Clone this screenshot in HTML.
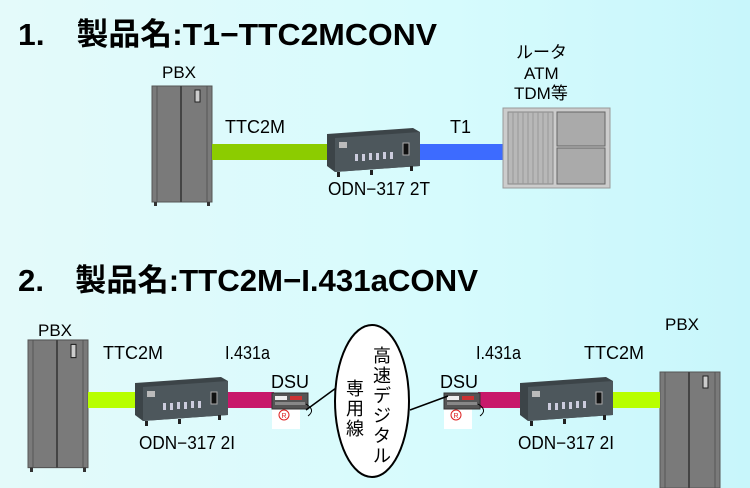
<!DOCTYPE html>
<html><head><meta charset="utf-8"><style>
html,body{margin:0;padding:0;width:750px;height:488px;overflow:hidden}
body{background:linear-gradient(90deg,#e4fafa 0%,#d6fbfd 60%,#c8f6fb 100%)}
svg text{font-family:"Liberation Sans","Noto Sans CJK JP",sans-serif;fill:#000}
</style></head><body>
<svg width="750" height="488" viewBox="0 0 750 488" xmlns="http://www.w3.org/2000/svg">
<defs>
<g id="pbx">
  <rect x="0" y="0" width="60" height="116" fill="#7a7a7a" stroke="#555"/>
  <line x1="5" y1="0" x2="5" y2="116" stroke="#555"/>
  <line x1="29" y1="0" x2="29" y2="116" stroke="#444" stroke-width="2"/>
  <line x1="55" y1="0" x2="55" y2="116" stroke="#555"/>
  <rect x="43" y="4" width="5" height="12" fill="#ccc" stroke="#222"/>
  <rect x="2" y="116" width="3" height="4" fill="#333"/><rect x="55" y="116" width="3" height="4" fill="#333"/>
</g>
<g id="odn">
  <path d="M2 6 L88 0 L95 4 L95 38 L10 44 L2 38 Z" fill="#3c4448"/>
  <path d="M10 10 L95 4 L95 38 L10 44 Z" fill="#4d575c"/>
  <rect x="14" y="14" width="8" height="6" fill="#bbb"/>
  <g fill="#ccd">
   <rect x="30" y="26" width="3" height="7"/><rect x="37" y="26" width="3" height="7"/><rect x="44" y="25" width="3" height="7"/><rect x="51" y="25" width="3" height="7"/><rect x="58" y="24" width="3" height="7"/><rect x="65" y="24" width="3" height="7"/>
  </g>
  <rect x="78" y="15" width="6" height="12" fill="#111" stroke="#aaa"/>
  <rect x="12" y="44" width="3" height="5" fill="#222"/><rect x="45" y="42" width="3" height="5" fill="#222"/><rect x="85" y="38" width="3" height="5" fill="#222"/>
</g>
<g id="dsu">
  <rect x="0" y="16" width="28" height="20" fill="#fff"/>
  <rect x="0" y="0" width="36" height="16" fill="#555" stroke="#333"/>
  <rect x="3" y="3" width="12" height="4" fill="#eee"/><rect x="18" y="3" width="12" height="4" fill="#c33"/>
  <rect x="3" y="9" width="30" height="3" fill="#888"/>
  <circle cx="12" cy="22" r="5" fill="#fff" stroke="#d22"/>
  <text x="9.5" y="25" font-size="7" style="fill:#d22">R</text>
</g>
</defs>

<text x="18" y="45" font-size="31" font-weight="bold" textLength="419" lengthAdjust="spacingAndGlyphs">1.　製品名:T1−TTC2MCONV</text>
<text x="162" y="78" font-size="17">PBX</text>
<use href="#pbx" x="152" y="86"/>
<rect x="212" y="144" width="118" height="16" fill="#8ccc00"/>
<rect x="420" y="144" width="84" height="16" fill="#3d6bff"/>
<use href="#odn" x="325" y="128"/>
<text x="225" y="133" font-size="18" textLength="60" lengthAdjust="spacingAndGlyphs">TTC2M</text>
<text x="450" y="133" font-size="18">T1</text>
<text x="328" y="195" font-size="18" textLength="102" lengthAdjust="spacingAndGlyphs">ODN−317 2T</text>
<text x="516" y="58" font-size="17">ルータ</text>
<text x="524" y="79" font-size="17">ATM</text>
<text x="514" y="99" font-size="17">TDM等</text>
<g>
  <rect x="503" y="108" width="107" height="80" fill="#ccc" stroke="#999"/>
  <rect x="508" y="112" width="45" height="72" fill="#b8b8b8" stroke="#888"/>
  <g stroke="#999"><line x1="513" y1="112" x2="513" y2="184"/><line x1="518" y1="112" x2="518" y2="184"/><line x1="523" y1="112" x2="523" y2="184"/><line x1="528" y1="112" x2="528" y2="184"/><line x1="533" y1="112" x2="533" y2="184"/><line x1="538" y1="112" x2="538" y2="184"/><line x1="543" y1="112" x2="543" y2="184"/><line x1="548" y1="112" x2="548" y2="184"/></g>
  <rect x="557" y="112" width="48" height="34" fill="#aaa" stroke="#666"/>
  <rect x="557" y="148" width="48" height="36" fill="#aaa" stroke="#666"/>
</g>

<text x="18" y="291" font-size="31" font-weight="bold" textLength="460" lengthAdjust="spacingAndGlyphs">2.　製品名:TTC2M−I.431aCONV</text>
<text x="38" y="336" font-size="17">PBX</text>
<use href="#pbx" x="28" y="340" transform="translate(28 340) scale(1 1.1) translate(-28 -340)"/>
<text x="665" y="330" font-size="17">PBX</text>
<use href="#pbx" x="660" y="372"/>
<rect x="88" y="392" width="47" height="16" fill="#b8ff00"/>
<rect x="228" y="392" width="46" height="16" fill="#c8186a"/>
<rect x="478" y="392" width="44" height="16" fill="#c8186a"/>
<rect x="612" y="392" width="48" height="16" fill="#b8ff00"/>
<use href="#odn" x="133" y="377"/>
<use href="#odn" x="518" y="377"/>
<use href="#dsu" x="272" y="393"/>
<use href="#dsu" x="444" y="393"/>
<path d="M306 404 Q316 410 308 416" stroke="#000" fill="none"/>
<path d="M478 404 Q488 410 480 416" stroke="#000" fill="none"/>
<line x1="306" y1="410" x2="336" y2="388" stroke="#000" stroke-width="1.5"/>
<line x1="410" y1="410" x2="448" y2="396" stroke="#000" stroke-width="1.5"/>
<ellipse cx="372" cy="401" rx="37" ry="76" fill="#fff" stroke="#000" stroke-width="2"/>
<text x="103" y="359" font-size="18" textLength="60" lengthAdjust="spacingAndGlyphs">TTC2M</text>
<text x="225" y="359" font-size="18" textLength="45" lengthAdjust="spacingAndGlyphs">I.431a</text>
<text x="476" y="359" font-size="18" textLength="45" lengthAdjust="spacingAndGlyphs">I.431a</text>
<text x="584" y="359" font-size="18" textLength="60" lengthAdjust="spacingAndGlyphs">TTC2M</text>
<text x="271" y="388" font-size="18" textLength="38" lengthAdjust="spacingAndGlyphs">DSU</text>
<text x="440" y="388" font-size="18" textLength="38" lengthAdjust="spacingAndGlyphs">DSU</text>
<text x="139" y="449" font-size="18" textLength="96" lengthAdjust="spacingAndGlyphs">ODN−317 2I</text>
<text x="518" y="449" font-size="18" textLength="96" lengthAdjust="spacingAndGlyphs">ODN−317 2I</text>
<g font-size="18">
<text x="373" y="362">高</text><text x="373" y="382">速</text><text x="373" y="402">デ</text><text x="373" y="422">ジ</text><text x="373" y="442">タ</text><text x="373" y="462">ル</text>
<text x="346" y="395">専</text><text x="346" y="415">用</text><text x="346" y="435">線</text>
</g>
</svg>
</body></html>
